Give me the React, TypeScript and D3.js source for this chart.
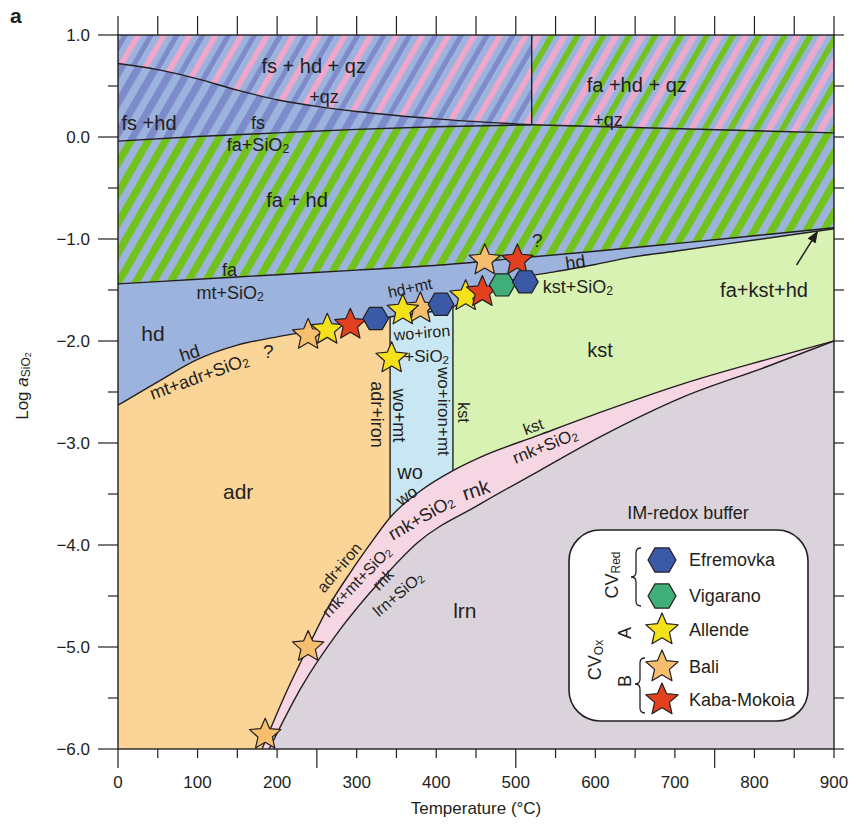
import React, { useEffect } from 'react';
import * as d3 from 'd3';

type Pt = [number, number];

// ---- phase boundaries (Temperature °C, log aSiO2) ----
const qzFsBoundary: Pt[] = [[0, 0.72], [50, 0.66], [100, 0.57], [150, 0.46], [200, 0.365], [250, 0.3], [300, 0.25], [400, 0.178], [520, 0.12]];
const qzFaBoundary: Pt[] = [[520, 0.12], [900, 0.04]];
const fsFaBoundary: Pt[] = [[0, -0.04], [100, 0.005], [200, 0.04], [300, 0.075], [400, 0.1], [520, 0.12]];
const fsFaVertical: Pt[] = [[520, 0.12], [520, 1.0]];
const faHdBoundary: Pt[] = [[0, -1.44], [100, -1.395], [200, -1.35], [300, -1.305], [405, -1.255], [500, -1.19], [600, -1.12], [700, -1.045], [800, -0.968], [900, -0.89]];
const hdLowerBoundary: Pt[] = [[0, -2.63], [50, -2.4], [100, -2.18], [150, -2.04], [200, -1.96], [250, -1.89], [300, -1.82], [342, -1.765], [421, -1.665], [450, -1.55], [480, -1.45], [502, -1.39], [550, -1.32], [600, -1.25], [644, -1.18], [700, -1.12], [800, -1.01], [900, -0.9]];
const rnkTopBoundary: Pt[] = [[181, -6.0], [210, -5.47], [239, -5.0], [265, -4.6], [292, -4.27], [318, -3.98], [342, -3.73], [380, -3.47], [421, -3.27], [455, -3.14], [530, -2.92], [606, -2.7], [710, -2.42], [816, -2.18], [900, -2.0]];
const lrnTopBoundary: Pt[] = [[190, -6.0], [230, -5.4], [279, -4.83], [330, -4.35], [376, -3.98], [455, -3.6], [530, -3.27], [606, -2.94], [710, -2.55], [816, -2.25], [900, -2.0]];
const adrWoT = 342;
const woKstT = 421;
const adrWoVertical: Pt[] = [[342, -3.73], [342, -1.765]];
const woKstVertical: Pt[] = [[421, -3.27], [421, -1.665]];

// ---- samples ----
const efremovka: Pt[] = [[324, -1.78], [406, -1.64], [512, -1.42]];
const vigarano: Pt[] = [[483, -1.45]];
const allende: Pt[] = [[263, -1.89], [358, -1.7], [344, -2.17], [437, -1.56]];
const bali: Pt[] = [[185, -5.86], [239, -5.0], [239, -1.94], [380, -1.68], [461, -1.21]];
const kaba: Pt[] = [[292, -1.84], [458, -1.52], [502, -1.21]];

// ---- axes ----
const xTickMinor = d3.range(0, 901, 50);
const xTickLong = [0, 250, 500, 750];
const xTickLabels = d3.range(0, 901, 100);
const yTicks = d3.range(-6, 1.01, 0.5);
const yTickLabels = [1, 0, -1, -2, -3, -4, -5, -6];

const legendNames = ['Efremovka', 'Vigarano', 'Allende', 'Bali', 'Kaba-Mokoia'];
const legendShapes = ['hex', 'hex', 'star', 'star', 'star'];

const C = {
  green: '#72c21c', lblue: '#9cb3dd', dblue: '#7d8bca', pink: '#f2a6c9',
  hd: '#9cb3dd', adr: '#fbd597', wo: '#c9e7f3', kst: '#d8f2b4', rnk: '#f5d6e2', lrn: '#dad3db',
  efr: '#3a5aa8', vig: '#3fae78', all: '#f5e11a', bali: '#f7be6e', kaba: '#e2401f', ink: '#231f20'
};

const W = 856, H = 827;
const x = d3.scaleLinear().domain([0, 900]).range([118, 834]);
const y = d3.scaleLinear().domain([-6, 1]).range([749, 35]);

const curve = d3.line<Pt>().x(d => x(d[0])).y(d => y(d[1])).curve(d3.curveMonotoneX);
const straight = d3.line<Pt>().x(d => x(d[0])).y(d => y(d[1]));
const below = d3.area<Pt>().x(d => x(d[0])).y0(y(-6)).y1(d => y(d[1])).curve(d3.curveMonotoneX);

function starPath(R: number, r: number) {
  const pts: [number, number][] = [];
  for (let i = 0; i < 10; i++) {
    const a = -Math.PI / 2 + i * Math.PI / 5;
    const rad = i % 2 === 0 ? R : r;
    pts.push([rad * Math.cos(a), rad * Math.sin(a)]);
  }
  return d3.line()(pts) + 'Z';
}
function hexPath(R: number) {
  const pts: [number, number][] = [];
  for (let i = 0; i < 6; i++) {
    const a = i * Math.PI / 3;
    pts.push([R * Math.cos(a), R * Math.sin(a)]);
  }
  return d3.line()(pts) + 'Z';
}

type Lbl = { t: number; l: number; text: string; sub?: string; size: number; rot?: number };
const labels: Lbl[] = [
  { t: 246, l: 0.7, text: 'fs + hd + qz', size: 20 },
  { t: 259, l: 0.39, text: '+qz', size: 18 },
  { t: 39, l: 0.14, text: 'fs +hd', size: 20 },
  { t: 176, l: 0.14, text: 'fs', size: 18 },
  { t: 176, l: -0.08, text: 'fa+SiO', sub: '2', size: 18 },
  { t: 225, l: -0.62, text: 'fa + hd', size: 20 },
  { t: 652, l: 0.51, text: 'fa +hd + qz', size: 20 },
  { t: 616, l: 0.17, text: '+qz', size: 18 },
  { t: 140, l: -1.3, text: 'fa', size: 18 },
  { t: 141, l: -1.53, text: 'mt+SiO', sub: '2', size: 18 },
  { t: 44, l: -1.93, text: 'hd', size: 21 },
  { t: 90, l: -2.12, text: 'hd', size: 18, rot: -18 },
  { t: 102, l: -2.35, text: 'mt+adr+SiO', sub: '2', size: 18, rot: -20 },
  { t: 189, l: -2.1, text: '?', size: 19 },
  { t: 325, l: -2.72, text: 'adr+iron', size: 18, rot: 90 },
  { t: 353, l: -2.73, text: 'wo+mt', size: 18, rot: 90 },
  { t: 409, l: -2.69, text: 'wo+iron+mt', size: 17, rot: 90 },
  { t: 434, l: -2.7, text: 'kst', size: 16, rot: 90 },
  { t: 367, l: -1.48, text: 'hd+mt', size: 16, rot: -12 },
  { t: 382, l: -1.92, text: 'wo+iron', size: 16, rot: -5 },
  { t: 388, l: -2.15, text: '+SiO', sub: '2', size: 17 },
  { t: 606, l: -2.09, text: 'kst', size: 20 },
  { t: 575, l: -1.23, text: 'hd', size: 18, rot: -8 },
  { t: 578, l: -1.47, text: 'kst+SiO', sub: '2', size: 18 },
  { t: 527, l: -1.01, text: '?', size: 19 },
  { t: 812, l: -1.5, text: 'fa+kst+hd', size: 20 },
  { t: 522, l: -2.84, text: 'kst', size: 16, rot: -20 },
  { t: 537, l: -3.03, text: 'rnk+SiO', sub: '2', size: 17, rot: -22 },
  { t: 367, l: -3.28, text: 'wo', size: 20 },
  { t: 363, l: -3.52, text: 'wo', size: 17, rot: -35 },
  { t: 381, l: -3.73, text: 'rnk+SiO', sub: '2', size: 18, rot: -30 },
  { t: 450, l: -3.46, text: 'rnk', size: 20, rot: -18 },
  { t: 278, l: -4.22, text: 'adr+iron', size: 16, rot: -50 },
  { t: 300, l: -4.36, text: 'rnk+mt+SiO', sub: '2', size: 16, rot: -46 },
  { t: 333, l: -4.34, text: 'rnk', size: 16, rot: -45 },
  { t: 352, l: -4.48, text: 'lrn+SiO', sub: '2', size: 16, rot: -40 },
  { t: 436, l: -4.64, text: 'lrn', size: 21 },
  { t: 151, l: -3.48, text: 'adr', size: 21 },
];

function Stripes({ id, colors, w }: { id: string; colors: string[]; w: number }) {
  const p = colors.length * w;
  return (
    <pattern id={id} patternUnits="userSpaceOnUse" width={p} height={p} patternTransform="rotate(30)">
      {colors.map((c, i) => <rect key={i} x={i * w} y={0} width={w + 0.3} height={p} fill={c} />)}
    </pattern>
  );
}

export default function App() {
  useEffect(() => { document.body.style.margin = '0'; }, []);

  const faHdPath = curve(fsFaBoundary) + straight(qzFaBoundary)!.replace('M', 'L') +
    `L${x(900)},${y(-6)}L${x(0)},${y(-6)}Z`;

  const star = starPath(16.5, 7.6);
  const hex = hexPath(12.8);
  const lstar = starPath(17, 7.8);
  const lhex = hexPath(14);

  const markerSets: { pts: Pt[]; path: string; fill: string }[] = [
    { pts: bali, path: star, fill: C.bali },
    { pts: allende, path: star, fill: C.all },
    { pts: kaba, path: star, fill: C.kaba },
    { pts: vigarano, path: hex, fill: C.vig },
    { pts: efremovka, path: hex, fill: C.efr },
  ];
  const legendFills = [C.efr, C.vig, C.all, C.bali, C.kaba];
  const legendY = [560, 596, 630, 667, 700];

  const lineStyle = { fill: 'none', stroke: C.ink, strokeWidth: 1.4 };

  return (
    <svg width={W} height={H} style={{ display: 'block', position: 'absolute', left: 0, top: 0, background: '#fff' }}
      fontFamily="'Liberation Sans', Arial, Helvetica, sans-serif" fill={C.ink}>
      <defs>
        <clipPath id="plotClip"><rect x={x(0)} y={y(1)} width={x(900) - x(0)} height={y(-6) - y(1)} /></clipPath>
        <clipPath id="woClip"><rect x={x(adrWoT)} y={0} width={x(woKstT) - x(adrWoT)} height={H} /></clipPath>
        <clipPath id="kstClip"><rect x={x(woKstT)} y={0} width={x(900) - x(woKstT)} height={H} /></clipPath>
        <Stripes id="pFsQz" colors={[C.pink, C.lblue, C.dblue, C.lblue]} w={5.6} />
        <Stripes id="pFaQz" colors={[C.green, C.lblue, C.pink, C.lblue]} w={5.6} />
        <Stripes id="pFsHd" colors={[C.dblue, C.lblue]} w={7.5} />
        <Stripes id="pFaHd" colors={[C.green, C.lblue]} w={7.5} />
        <marker id="arrowHead" viewBox="0 0 10 10" refX="9" refY="5" markerWidth="8" markerHeight="8" orient="auto">
          <path d="M0,1 L10,5 L0,9 Z" fill={C.ink} />
        </marker>
      </defs>

      <g clipPath="url(#plotClip)">
        <rect x={x(0)} y={y(1)} width={x(520) - x(0)} height={y(-6) - y(1)} fill="url(#pFsQz)" />
        <rect x={x(520)} y={y(1)} width={x(900) - x(520)} height={y(-6) - y(1)} fill="url(#pFaQz)" />
        <path d={below(qzFsBoundary)!} fill="url(#pFsHd)" />
        <path d={faHdPath} fill="url(#pFaHd)" />
        <path d={below(faHdBoundary)!} fill={C.hd} />
        <path d={below(hdLowerBoundary)!} fill={C.adr} />
        <path d={below(hdLowerBoundary)!} fill={C.wo} clipPath="url(#woClip)" />
        <path d={below(hdLowerBoundary)!} fill={C.kst} clipPath="url(#kstClip)" />
        <path d={below(rnkTopBoundary)!} fill={C.rnk} />
        <path d={below(lrnTopBoundary)!} fill={C.lrn} />

        <path d={curve(qzFsBoundary)!} {...lineStyle} />
        <path d={straight(qzFaBoundary)!} {...lineStyle} />
        <path d={curve(fsFaBoundary)!} {...lineStyle} />
        <path d={straight(fsFaVertical)!} {...lineStyle} />
        <path d={curve(faHdBoundary)!} {...lineStyle} />
        <path d={curve(hdLowerBoundary)!} {...lineStyle} />
        <path d={curve(rnkTopBoundary)!} {...lineStyle} />
        <path d={curve(lrnTopBoundary)!} {...lineStyle} />
        <path d={straight(adrWoVertical)!} {...lineStyle} />
        <path d={straight(woKstVertical)!} {...lineStyle} />
      </g>

      {/* frame */}
      <rect x={x(0)} y={y(1)} width={x(900) - x(0)} height={y(-6) - y(1)} fill="none" stroke={C.ink} strokeWidth={1.4} />

      {/* ticks */}
      {xTickMinor.map(t => {
        const len = xTickLong.includes(t) ? 19 : 9;
        return (
          <g key={'xt' + t} stroke={C.ink} strokeWidth={1.2}>
            <line x1={x(t)} x2={x(t)} y1={y(-6)} y2={y(-6) + len} />
            <line x1={x(t)} x2={x(t)} y1={y(1)} y2={y(1) - 19} />
          </g>
        );
      })}
      {yTicks.map(v => {
        const major = Math.abs(v - Math.round(v)) < 1e-6;
        return (
          <g key={'yt' + v} stroke={C.ink} strokeWidth={1.2}>
            <line x1={x(0)} x2={x(0) - (major ? 20 : 10)} y1={y(v)} y2={y(v)} />
            <line x1={x(900)} x2={x(900) + 10} y1={y(v)} y2={y(v)} />
          </g>
        );
      })}
      {xTickLabels.map(t => (
        <text key={'xl' + t} x={x(t)} y={782} textAnchor="middle" dominantBaseline="central" fontSize={17}>{t}</text>
      ))}
      {yTickLabels.map(v => (
        <text key={'yl' + v} x={90} y={y(v)} textAnchor="end" dominantBaseline="central" fontSize={17}>
          {v < 0 ? '\u2212' + Math.abs(v).toFixed(1) : v.toFixed(1)}
        </text>
      ))}
      <text x={476} y={808} textAnchor="middle" dominantBaseline="central" fontSize={17}>Temperature (°C)</text>
      <text transform={`translate(22,386) rotate(-90)`} textAnchor="middle" dominantBaseline="central" fontSize={17}>
        Log <tspan fontStyle="italic">a</tspan><tspan dy="0.35em" fontSize={12}>SiO</tspan><tspan dy="0.25em" fontSize={9}>2</tspan>
      </text>
      <text x={10} y={23} fontSize={21} fontWeight="bold">a</text>

      {/* region labels */}
      {labels.map((d, i) => (
        <text key={'lb' + i} transform={`translate(${x(d.t)},${y(d.l)}) rotate(${d.rot || 0})`}
          textAnchor="middle" dominantBaseline="central" fontSize={d.size}>
          {d.text}{d.sub ? <tspan dy="0.3em" fontSize={d.size * 0.68}>{d.sub}</tspan> : null}
        </text>
      ))}
      <line x1={x(853)} y1={y(-1.255)} x2={x(879)} y2={y(-0.93)} stroke={C.ink} strokeWidth={1.5} markerEnd="url(#arrowHead)" />

      {/* samples */}
      {markerSets.map((s, si) => s.pts.map((p, i) => (
        <path key={'m' + si + '_' + i} d={s.path} transform={`translate(${x(p[0])},${y(p[1])})`}
          fill={s.fill} stroke={C.ink} strokeWidth={1.2} strokeLinejoin="round" />
      )))}

      {/* legend */}
      <text x={688} y={513} textAnchor="middle" dominantBaseline="central" fontSize={18}>IM-redox buffer</text>
      <rect x={569} y={530} width={239} height={191} rx={31} fill="#fff" stroke={C.ink} strokeWidth={1.6} />
      {legendNames.map((n, i) => (
        <g key={'lg' + i}>
          <path d={legendShapes[i] === 'hex' ? lhex : lstar} transform={`translate(662,${legendY[i]})`}
            fill={legendFills[i]} stroke={C.ink} strokeWidth={1.2} strokeLinejoin="round" />
          <text x={689} y={legendY[i]} dominantBaseline="central" fontSize={18}>{n}</text>
        </g>
      ))}
      <path d="M641,548 Q636,548 636,553 L636,572 Q636,577 631,577 Q636,577 636,582 L636,601 Q636,606 641,606" fill="none" stroke={C.ink} strokeWidth={1.3} />
      <path d="M645,658 Q640,658 640,663 L640,679 Q640,684 635,684 Q640,684 640,689 L640,708 Q640,713 645,713" fill="none" stroke={C.ink} strokeWidth={1.3} />
      <text transform="translate(612,575) rotate(-90)" textAnchor="middle" dominantBaseline="central" fontSize={18}>
        CV<tspan dy="0.3em" fontSize={12}>Red</tspan>
      </text>
      <text transform="translate(595,660) rotate(-90)" textAnchor="middle" dominantBaseline="central" fontSize={18}>
        CV<tspan dy="0.3em" fontSize={12}>Ox</tspan>
      </text>
      <text transform="translate(625,633) rotate(-90)" textAnchor="middle" dominantBaseline="central" fontSize={18}>A</text>
      <text transform="translate(625,681) rotate(-90)" textAnchor="middle" dominantBaseline="central" fontSize={18}>B</text>
    </svg>
  );
}
